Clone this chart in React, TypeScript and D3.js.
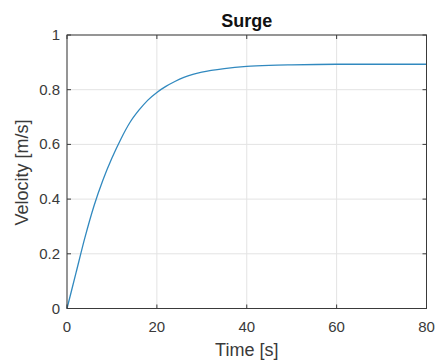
import React from "react";
import * as d3 from "d3";

const timeS = [0, 2, 4, 6, 8, 10, 12, 14, 16, 18, 20, 22, 24, 26, 28, 30, 35, 40, 45, 50, 60, 70, 80];
const velocity = [0, 0.13, 0.26, 0.375, 0.47, 0.55, 0.62, 0.68, 0.725, 0.762, 0.79, 0.812, 0.83, 0.845, 0.856, 0.864, 0.877, 0.885, 0.889, 0.891, 0.893, 0.893, 0.893];
const xTicks = [0, 20, 40, 60, 80];
const yTicks = [0, 0.2, 0.4, 0.6, 0.8, 1];
const titleText = "Surge";
const xLabel = "Time [s]";
const yLabel = "Velocity [m/s]";

const W = 436, H = 362;
const L = 67, R = 426.5, T = 35, B = 308.5;
const font = "'Liberation Sans', Arial, sans-serif";

export default function App() {
  const x = d3.scaleLinear().domain([0, 80]).range([L, R]);
  const y = d3.scaleLinear().domain([0, 1]).range([B, T]);
  const line = d3.line<number>().x((_, i) => x(timeS[i])).y((d) => y(d)).curve(d3.curveMonotoneX);
  const tl = 4;
  return (
    <svg width={W} height={H} style={{ position: "absolute", left: 0, top: 0, background: "#fff" }}>
      <rect x={0} y={0} width={W} height={H} fill="#fff" />
      {xTicks.map((t) => (
        <line key={"gx" + t} x1={x(t)} x2={x(t)} y1={T} y2={B} stroke="#e3e3e3" strokeWidth={1} />
      ))}
      {yTicks.map((t) => (
        <line key={"gy" + t} x1={L} x2={R} y1={y(t)} y2={y(t)} stroke="#e3e3e3" strokeWidth={1} />
      ))}
      <path d={line(velocity) || ""} fill="none" stroke="#3189bf" strokeWidth={1.3} />
      <rect x={L} y={T} width={R - L} height={B - T} fill="none" stroke="#3a3a3a" strokeWidth={1} />
      {xTicks.map((t) => (
        <g key={"tx" + t}>
          <line x1={x(t)} x2={x(t)} y1={B} y2={B - tl} stroke="#3a3a3a" />
          <line x1={x(t)} x2={x(t)} y1={T} y2={T + tl} stroke="#3a3a3a" />
          <text x={x(t)} y={B + 23.5} textAnchor="middle" fontFamily={font} fontSize={15} fill="#3a3a3a">{t}</text>
        </g>
      ))}
      {yTicks.map((t) => (
        <g key={"ty" + t}>
          <line x1={L} x2={L + tl} y1={y(t)} y2={y(t)} stroke="#3a3a3a" />
          <line x1={R} x2={R - tl} y1={y(t)} y2={y(t)} stroke="#3a3a3a" />
          <text x={L - 7} y={y(t) + 5} textAnchor="end" fontFamily={font} fontSize={15} fill="#3a3a3a">{t}</text>
        </g>
      ))}
      <text x={(L + R) / 2} y={27} textAnchor="middle" fontFamily={font} fontSize={18} fontWeight="bold" fill="#111">{titleText}</text>
      <text x={(L + R) / 2} y={356} textAnchor="middle" fontFamily={font} fontSize={18} fill="#3a3a3a">{xLabel}</text>
      <text transform={`translate(28,172.5) rotate(-90)`} textAnchor="middle" fontFamily={font} fontSize={18} fill="#3a3a3a">{yLabel}</text>
    </svg>
  );
}
